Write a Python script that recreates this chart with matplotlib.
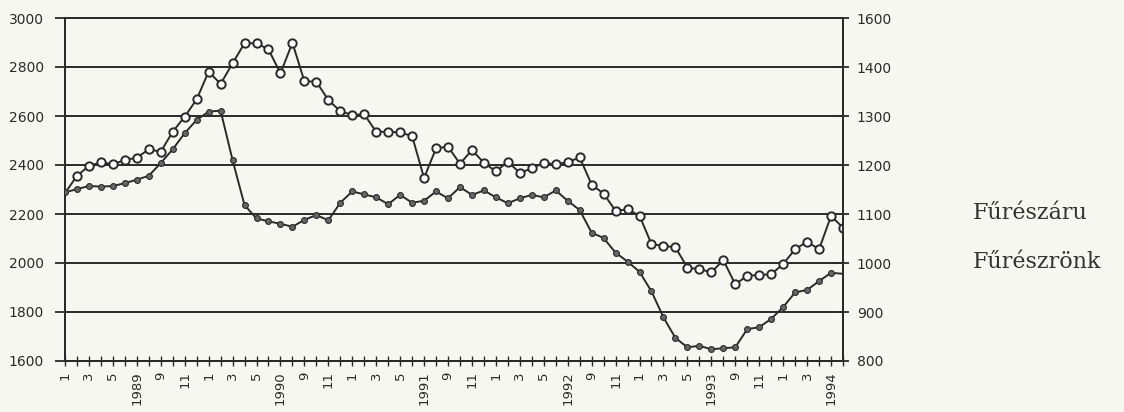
import matplotlib.pyplot as plt

# monthly data, Jan 1989 .. Jun 1994
months = list(range(66))

# Fűrészáru (open circles, left axis)
fureszaru = [2285, 2356, 2396, 2411, 2403, 2420, 2430, 2464, 2454, 2536,
             2597, 2668, 2781, 2731, 2815, 2897, 2897, 2872, 2774, 2899,
             2742, 2740, 2665, 2620, 2604, 2607, 2535, 2536, 2533, 2518,
             2347, 2468, 2475, 2405, 2461, 2409, 2374, 2413, 2368, 2386,
             2409, 2403, 2411, 2431, 2320, 2283, 2213, 2219, 2193, 2077,
             2070, 2064, 1981, 1975, 1962, 2012, 1913, 1948, 1951, 1954,
             1996, 2056, 2087, 2056, 2192, 2144]

# Fűrészrönk (filled dots, right axis)
fureszronk = [1144, 1151, 1157, 1156, 1157, 1163, 1170, 1178, 1204, 1232,
              1265, 1292, 1309, 1311, 1210, 1118, 1091, 1085, 1080, 1074,
              1088, 1098, 1087, 1123, 1146, 1140, 1134, 1120, 1139, 1123,
              1127, 1146, 1132, 1155, 1139, 1148, 1134, 1122, 1132, 1139,
              1134, 1148, 1127, 1108, 1062, 1051, 1021, 1003, 982, 942,
              889, 847, 828, 831, 824, 826, 828, 865, 869, 886,
              910, 940, 945, 963, 980, 978]

# labels on every second month
xtick_labels = ["1", "3", "5", "1989", "9", "11",
                "1", "3", "5", "1990", "9", "11",
                "1", "3", "5", "1991", "9", "11",
                "1", "3", "5", "1992", "9", "11",
                "1", "3", "5", "1993", "9", "11",
                "1", "3", "1994"]

left_ticks = [1600, 1800, 2000, 2200, 2400, 2600, 2800, 3000]
left_labels = ["1600", "1800", "2000", "2200", "2400", "2600", "2800", "3000"]
right_ticks = [800, 900, 1000, 1100, 1200, 1300, 1400, 1500]
right_labels = ["800", "900", "1000", "1100", "1200", "1300", "1400", "1600"]

ink = "#2a2a2a"
bg = "#f7f7f2"

fig = plt.figure(figsize=(11.24, 4.12), dpi=100, facecolor=bg)
ax = fig.add_axes([65 / 1124, 1 - 361 / 412, (843 - 65) / 1124, (361 - 18) / 412])
ax.set_facecolor(bg)

for v in left_ticks:
    ax.axhline(v, color=ink, lw=1.4, zorder=1)

ax.plot(months, fureszaru, color=ink, lw=1.4, marker="o", ms=6,
        mfc="white", mec=ink, mew=1.4, markevery=list(range(1, 66)), zorder=3)

ax2 = ax.twinx()
ax2.plot(months, fureszronk, color=ink, lw=1.4, marker="o", ms=4.2,
         mfc="#666666", mec=ink, mew=0.8, markevery=list(range(0, 65)), zorder=3)

ax.set_xlim(0, 65)
ax.set_ylim(1600, 3000)
ax2.set_ylim(800, 1500)

ax.set_yticks(left_ticks)
ax.set_yticklabels(left_labels)
ax2.set_yticks(right_ticks)
ax2.set_yticklabels(right_labels)

ax.set_xticks(months)
ax.set_xticklabels([xtick_labels[i // 2] if i % 2 == 0 else "" for i in months],
                   rotation=90)

ax.tick_params(axis="y", length=7, width=1.3, direction="out", pad=8,
               labelsize=10, colors=ink)
ax2.tick_params(axis="y", length=8, width=1.3, direction="inout", pad=6,
                labelsize=10, colors=ink)
ax.tick_params(axis="x", length=7, width=1.0, direction="inout", pad=4,
               labelsize=9.5, colors=ink)

for a in (ax, ax2):
    for s in a.spines.values():
        s.set_color(ink)
        s.set_linewidth(1.4)

fig.text(973 / 1124, 1 - 213 / 412, "Fűrészáru", family="DejaVu Serif",
         fontsize=16, color="#333333", va="center")
fig.text(973 / 1124, 1 - 262 / 412, "Fűrészrönk", family="DejaVu Serif",
         fontsize=16, color="#333333", va="center")

plt.savefig("out.png", dpi=100, facecolor=bg)
plt.close()
